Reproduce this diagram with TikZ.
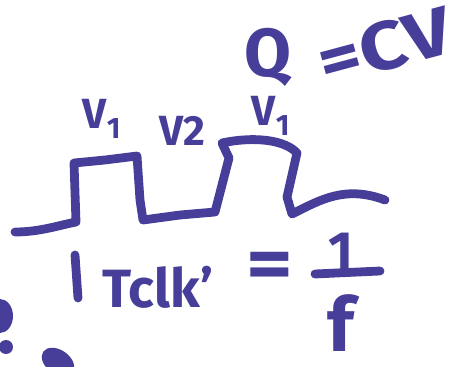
\documentclass[tikz,border=0pt]{standalone}
\usepackage{fontspec}
\setmainfont{Fira Sans}
\definecolor{ink}{RGB}{70,62,152}

\begin{document}
\begin{tikzpicture}[x=0.03cm,y=-0.03cm,line cap=round,line join=round,
  pen/.style={ink,line width=7.5pt},
  every node/.style={inner sep=0pt,text=ink,font=\bfseries}]
  \def\huge{\fontsize{64}{64}\selectfont\bfseries}
  \def\big{\fontsize{58}{58}\selectfont\bfseries}
  \def\mid{\fontsize{46}{46}\selectfont\bfseries}
  \def\small{\fontsize{36}{36}\selectfont\bfseries}
  \useasboundingbox (0,0) rectangle (465,367);
  % the clock signal
  \draw[pen] (15,232) .. controls (40,232) and (60,225) .. (76,222)
    -- (74,163) -- (105,160) -- (137,156) -- (140,200) -- (143,220)
    -- (180,215) -- (215,212) -- (229,158) -- (222,143)
    .. controls (255,136) and (285,140) .. (297,153)
    -- (287,197) -- (292,214)
    .. controls (320,200) and (345,185) .. (385,200);
  \node[font=\small] (va) at (102,119) {V\textsubscript{1}};
  \node[font=\small] (vb) at (182,131) {V2};
  \node[font=\small] (vc) at (271,116) {V\textsubscript{1}};
  \node[font=\big] (q) at (268,57) {Q};
  \node[font=\big,rotate=15,xscale=1.2] (cv) at (385,46) {=CV};
  % period
  \draw[pen] (75,255) -- (78,298);
  \node[font=\mid] (tclk) at (158,287) {Tclk’};
  \node[font=\huge,xscale=1.2] (eq) at (270,271) {=};
  \node[font=\mid] (one) at (341,251) {1};
  \draw[pen] (315,274) -- (380,271);
  \node[font=\huge] (ef) at (341,323) {f};
  % pieces cut at the edge
  \fill[ink] (0,316) ellipse (13 and 17);
  \fill[ink] (6,347) circle (7);
  \fill[ink,rotate around={-35:(58,362)}] (58,362) ellipse (18 and 12);
\end{tikzpicture}
\end{document}
